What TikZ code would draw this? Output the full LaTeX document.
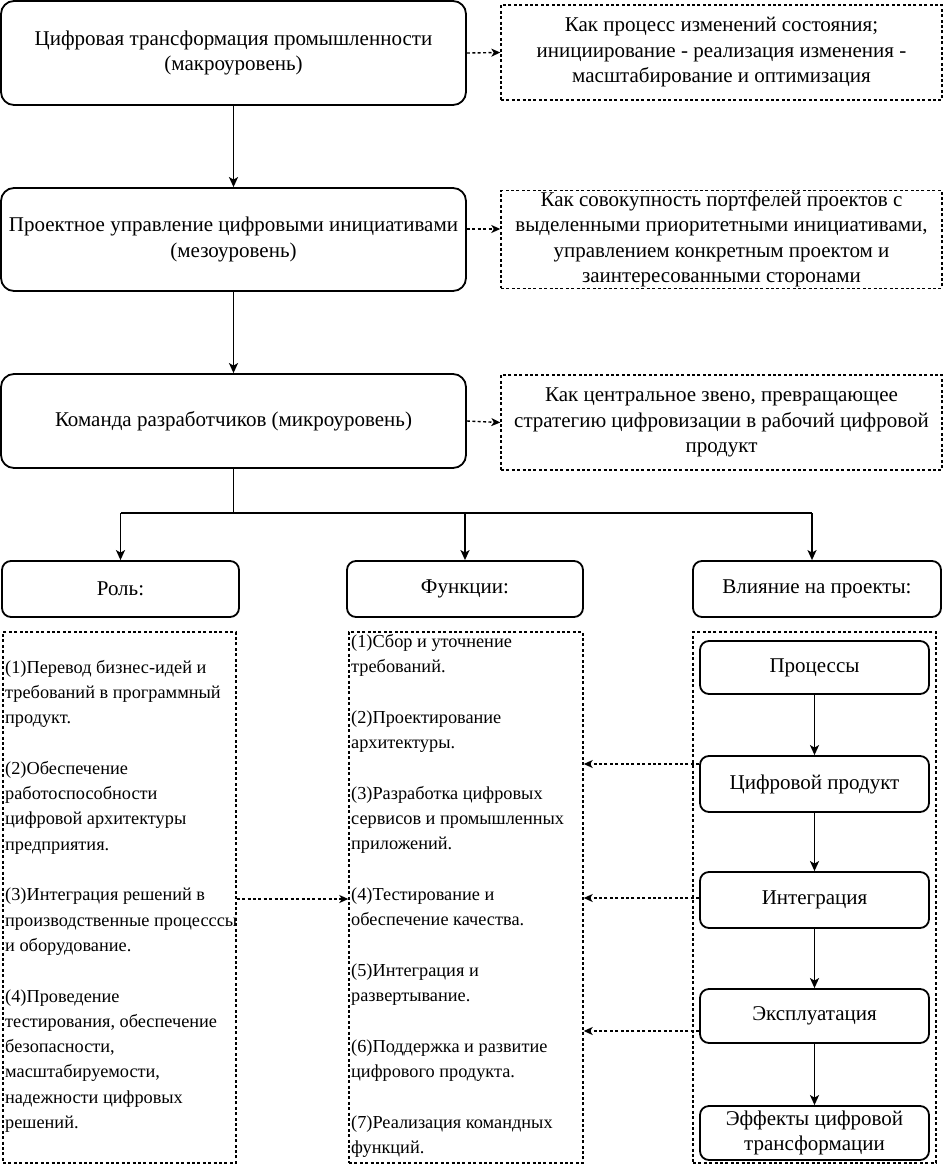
\documentclass[tikz,border=0pt]{standalone}
\usepackage{fontspec}
\setmainfont{Liberation Serif}
\usetikzlibrary{arrows.meta}
\newcommand\mainsz{\fontsize{21}{25.5}\selectfont}
\newcommand\smallsz{\fontsize{18.3}{25.3}\selectfont}
\begin{document}
\begin{tikzpicture}[x=1pt,y=-1pt,
  bigbox/.style={draw, line width=1.8pt, rounded corners=13pt, align=center, inner sep=1pt, font=\mainsz},
  smallbox/.style={draw, line width=1.8pt, rounded corners=9pt, align=center, inner sep=1pt, font=\mainsz},
  dbox/.style={draw, line width=1.4pt, dash pattern=on 3pt off 2.4pt, align=center, inner sep=1pt, font=\mainsz},
  txt/.style={align=left, inner sep=0pt, font=\smallsz},
  solidline/.style={line width=1.8pt},
  solidarrow/.style={line width=1.8pt, -{Stealth[length=10pt,width=9pt,inset=2.5pt]}},
  dasharrow/.style={line width=1.4pt, dash pattern=on 3pt off 2.4pt, -{Stealth[length=9pt,width=8pt,inset=2.5pt]}}
]
\useasboundingbox (0,0) rectangle (943,1165);
% top column
\node[bigbox, minimum width=465pt, minimum height=104pt] (b1) at (233.5,53) {Цифровая трансформация промышленности\\(макроуровень)};
\node[bigbox, minimum width=465pt, minimum height=103pt] (b2) at (233.5,239.5) {Проектное управление цифровыми инициативами\\(мезоуровень)};
\node[bigbox, minimum width=465pt, minimum height=94pt] (b3) at (233.5,421) {Команда разработчиков (микроуровень)};
% dashed descriptions
\node[dbox, minimum width=441pt, minimum height=95pt] (d1) at (721.5,52.5) {Как процесс изменений состояния;\\инициирование - реализация изменения -\\масштабирование и оптимизация};
\node[dbox, minimum width=441pt, minimum height=95pt] (d2) at (721.5,239.5) {Как совокупность портфелей проектов с\\выделенными приоритетными инициативами,\\управлением конкретным проектом и\\заинтересованными сторонами};
\node[dbox, minimum width=441pt, minimum height=95pt] (d3) at (721.5,422.5) {Как центральное звено, превращающее\\стратегию цифровизации в рабочий цифровой\\продукт};
% three headers
\node[smallbox, minimum width=237pt, minimum height=56pt] (r) at (120.5,589) {Роль:};
\node[smallbox, minimum width=236pt, minimum height=56pt] (f) at (465,589) {Функции:};
\node[smallbox, minimum width=248pt, minimum height=56pt] (v) at (817,589) {Влияние на проекты:};
% dashed columns
\node[dbox, minimum width=233pt, minimum height=531pt] (ld) at (119.5,897.5) {};
\node[dbox, minimum width=234pt, minimum height=531pt] (md) at (466,897.5) {};
\node[dbox, minimum width=243pt, minimum height=531pt] (rd) at (814.5,897.5) {};
% column texts (anchored at the baseline of their last line)
\node[txt, anchor=base west] (lt) at (5,1128.5) {(1)Перевод бизнес-идей и\\требований в программный\\продукт.\\[25.3pt]
(2)Обеспечение\\работоспособности\\цифровой архитектуры\\предприятия.\\[25.3pt]
(3)Интеграция решений в\\производственные процесссы\\и оборудование.\\[25.3pt]
(4)Проведение\\тестирования, обеспечение\\безопасности,\\масштабируемости,\\надежности цифровых\\решений.};
\node[txt, anchor=base west] (mt) at (351,1153.5) {(1)Сбор и уточнение\\требований.\\[25.3pt]
(2)Проектирование\\архитектуры.\\[25.3pt]
(3)Разработка цифровых\\сервисов и промышленных\\приложений.\\[25.3pt]
(4)Тестирование и\\обеспечение качества.\\[25.3pt]
(5)Интеграция и\\развертывание.\\[25.3pt]
(6)Поддержка и развитие\\цифрового продукта.\\[25.3pt]
(7)Реализация командных\\функций.};
% inner chain
\node[smallbox, minimum width=229pt, minimum height=53pt] (p1) at (814.5,667.5) {Процессы};
\node[smallbox, minimum width=229pt, minimum height=56pt] (p2) at (814.5,784) {Цифровой продукт};
\node[smallbox, minimum width=229pt, minimum height=56pt] (p3) at (814.5,900) {Интеграция};
\node[smallbox, minimum width=229pt, minimum height=54pt] (p4) at (814.5,1016) {Эксплуатация};
\node[smallbox, minimum width=229pt, minimum height=54pt] (p5) at (814.5,1133) {Эффекты цифровой\\трансформации};
% helper coordinates
\coordinate (y229) at (0,229);
\coordinate (ybr) at (0,513);
\coordinate (jv) at (812,513);
\coordinate (ya) at (0,764);
\coordinate (yb) at (0,898);
\coordinate (yc) at (0,1031);
\coordinate (yd) at (0,899);
% connectors
\draw[solidarrow] (b1.south) -- (b2.north);
\draw[solidarrow] (b2.south) -- (b3.north);
\draw[dasharrow] (b1.east) -- (d1.west);
\draw[dasharrow] (b2.east |- y229) -- (d2.west |- y229);
\draw[dasharrow] (b3.east) -- (d3.west);
\draw[solidline] (b3.south) -- (b3.south |- ybr);
\draw[solidline] (r.north |- ybr) -- (jv);
\draw[solidarrow] (r.north |- ybr) -- (r.north);
\draw[solidarrow] (f.north |- ybr) -- (f.north);
\draw[solidarrow] (jv) -- (jv |- v.north);
\draw[solidarrow] (p1.south) -- (p2.north);
\draw[solidarrow] (p2.south) -- (p3.north);
\draw[solidarrow] (p3.south) -- (p4.north);
\draw[solidarrow] (p4.south) -- (p5.north);
\draw[dasharrow] (p2.west |- ya) -- (md.east |- ya);
\draw[dasharrow] (p3.west |- yb) -- (md.east |- yb);
\draw[dasharrow] (p4.west |- yc) -- (md.east |- yc);
\draw[dasharrow] (ld.east |- yd) -- (md.west |- yd);
\end{tikzpicture}
\end{document}
